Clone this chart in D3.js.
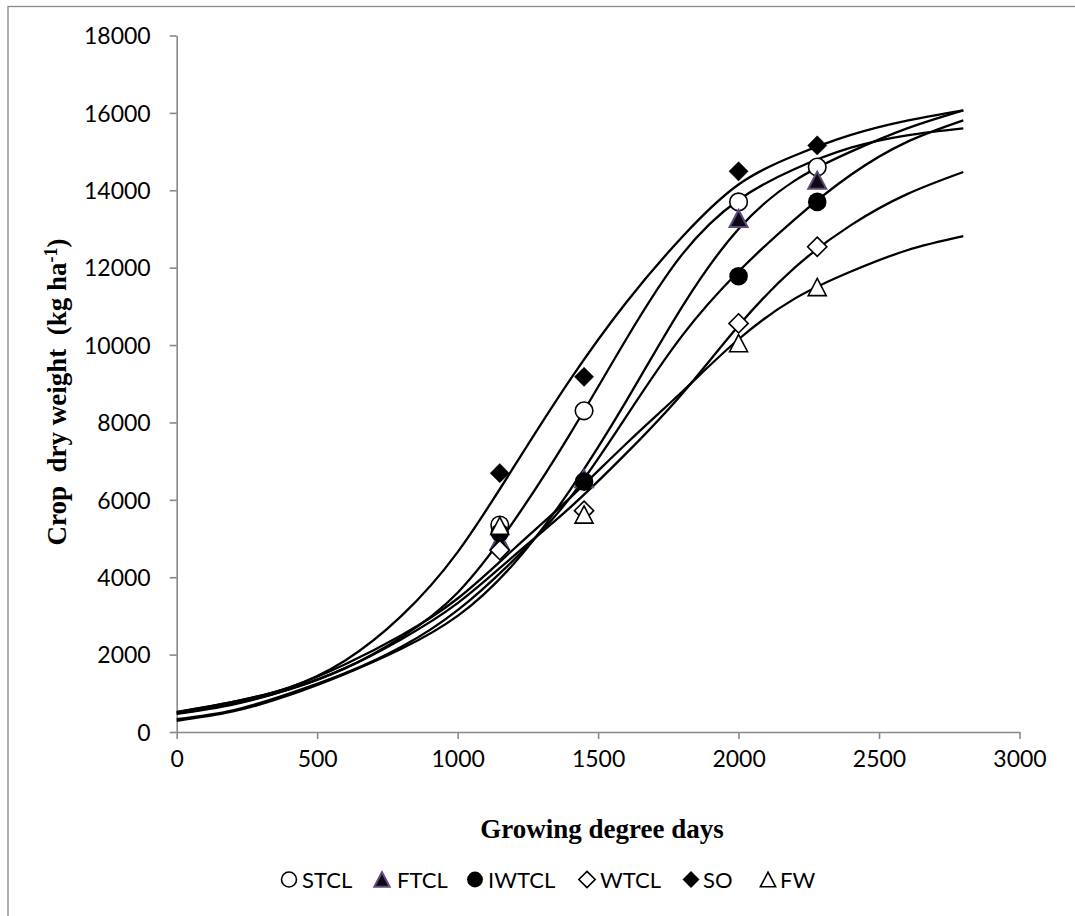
<!DOCTYPE html>
<html>
<head>
<meta charset="utf-8">
<script src="https://cdn.jsdelivr.net/npm/d3@7/dist/d3.min.js"></script>
<style>
  html, body { margin: 0; padding: 0; background: #fff; }
  svg { display: block; }
  .tick-label { font-family: Lato, "Open Sans", sans-serif; font-size: 23px; fill: #000; }
  .legend-label { font-family: Lato, "Open Sans", sans-serif; font-size: 22px; fill: #000; }
  .axis-title { font-family: "Liberation Serif", "Times New Roman", serif; font-weight: bold; font-size: 27px; fill: #000; }
</style>
</head>
<body>
<svg id="chart" width="1075" height="916"></svg>
<script>
// ---------- DATA ----------
const seriesNames = ["STCL", "FTCL", "IWTCL", "WTCL", "SO", "FW"];

// fitted curves (GDD grid, kg/ha)
const curveGDD   = [0, 200, 400, 600, 800, 1000, 1200, 1400, 1600, 1800, 2000, 2200, 2400, 2600, 2800];
const curveSTCL  = [470, 710, 1100, 1650, 2450, 3600, 5450, 7700, 10150, 12350, 13750, 14550, 15100, 15420, 15600];
const curveFTCL  = [290, 530, 950, 1500, 2150, 3000, 4350, 6250, 8550, 11000, 13000, 14250, 15000, 15600, 16065];
const curveIWTCL = [330, 560, 990, 1520, 2200, 3150, 4450, 6050, 8150, 10250, 11900, 13250, 14400, 15250, 15806];
const curveWTCL  = [480, 730, 1100, 1650, 2400, 3330, 4550, 5800, 7200, 8750, 10500, 12000, 13100, 13900, 14472];
const curveSO    = [510, 780, 1150, 1850, 3000, 4650, 6850, 9100, 11100, 12800, 14150, 14900, 15430, 15800, 16065];
const curveFW    = [520, 780, 1150, 1750, 2500, 3450, 4730, 6050, 7450, 8800, 10150, 11200, 11900, 12450, 12813];

// observed points
const obsGDD   = [1150, 1450, 2000, 2280];
const obsSTCL  = [5350, 8300, 13700, 14600];
const obsFTCL  = [4950, 6550, 13270, 14260];
const obsIWTCL = [5150, 6470, 11780, 13700];
const obsWTCL  = [4700, 5720, 10560, 12540];
const obsSO    = [6690, 9180, 14490, 15160];
const obsFW    = [5330, 5620, 10050, 11500];

// axis ticks
const xTicks = [0, 500, 1000, 1500, 2000, 2500, 3000];
const yTicks = [0, 2000, 4000, 6000, 8000, 10000, 12000, 14000, 16000, 18000];

// ---------- SETUP ----------
const curves = { STCL: curveSTCL, FTCL: curveFTCL, IWTCL: curveIWTCL, WTCL: curveWTCL, SO: curveSO, FW: curveFW };
const obs = { STCL: obsSTCL, FTCL: obsFTCL, IWTCL: obsIWTCL, WTCL: obsWTCL, SO: obsSO, FW: obsFW };
const markerType = { STCL: "circleOpen", FTCL: "triFilled", IWTCL: "circleFilled", WTCL: "diamondOpen", SO: "diamondFilled", FW: "triOpen" };

const svg = d3.select("#chart");
const x = d3.scaleLinear().domain([0, 3000]).range([176.7, 1019.5]);
const y = d3.scaleLinear().domain([0, 18000]).range([732, 35.5]);
const axisColor = "#898989";

// outer frame
svg.append("rect").attr("x", 8).attr("y", 6.5).attr("width", 1080).attr("height", 930)
  .attr("fill", "none").attr("stroke", axisColor).attr("stroke-width", 1.3);

// axes
const gx = svg.append("g").attr("transform", `translate(0,${y(0)})`)
  .call(d3.axisBottom(x).tickValues(xTicks).tickSize(7).tickSizeOuter(0).tickFormat(d => d));
const gy = svg.append("g").attr("transform", `translate(${x(0)},0)`)
  .call(d3.axisLeft(y).tickValues(yTicks).tickSize(7).tickSizeOuter(0).tickFormat(d => d));
[gx, gy].forEach(g => {
  g.select(".domain").attr("stroke", axisColor).attr("stroke-width", 1.6);
  g.selectAll(".tick line").attr("stroke", axisColor).attr("stroke-width", 1.6);
  g.selectAll(".tick text").attr("class", "tick-label").attr("font-size", null).attr("font-family", null);
});
gx.selectAll(".tick text").attr("y", 19).attr("dy", "0.71em");
gy.selectAll(".tick text").attr("x", -26).attr("dy", "0.36em");

// curves
const line = d3.line().x(d => x(d[0])).y(d => y(d[1])).curve(d3.curveNatural);
seriesNames.forEach(name => {
  const pts = curveGDD.map((g, i) => [g, curves[name][i]]);
  svg.append("path").attr("d", line(pts)).attr("fill", "none")
    .attr("stroke", "#000").attr("stroke-width", 2.3).attr("stroke-linejoin", "round");
});

// marker drawer
function drawMarker(g, type, cx, cy, s) {
  const sw = 1.6;
  if (type === "circleOpen") {
    g.append("circle").attr("cx", cx).attr("cy", cy).attr("r", 8.8 * s)
      .attr("fill", "#fff").attr("stroke", "#000").attr("stroke-width", sw);
  } else if (type === "circleFilled") {
    g.append("circle").attr("cx", cx).attr("cy", cy).attr("r", 9.3 * s).attr("fill", "#000");
  } else if (type === "diamondOpen" || type === "diamondFilled") {
    const h = 9.6 * s;
    g.append("path").attr("d", `M${cx},${cy - h}L${cx + h},${cy}L${cx},${cy + h}L${cx - h},${cy}Z`)
      .attr("fill", type === "diamondFilled" ? "#000" : "#fff")
      .attr("stroke", "#000").attr("stroke-width", type === "diamondFilled" ? 0.5 : sw);
  } else if (type === "triOpen" || type === "triFilled") {
    const w = 9.0 * s, h = 8.6 * s;
    g.append("path").attr("d", `M${cx},${cy - h}L${cx + w},${cy + h}L${cx - w},${cy + h}Z`)
      .attr("fill", type === "triFilled" ? "#0d0a14" : "#fff")
      .attr("stroke", type === "triFilled" ? "#5f4a7c" : "#000")
      .attr("stroke-width", type === "triFilled" ? 2 : sw).attr("stroke-linejoin", "miter");
  }
}

// observed markers
const mg = svg.append("g");
seriesNames.forEach(name => {
  obsGDD.forEach((g, i) => drawMarker(mg, markerType[name], x(g), y(obs[name][i]), 1));
});

// axis titles
svg.append("text").attr("class", "axis-title").attr("x", 602).attr("y", 838)
  .attr("text-anchor", "middle").text("Growing degree days");
const yt = svg.append("text").attr("class", "axis-title")
  .attr("transform", "translate(66,392) rotate(-90)").attr("text-anchor", "middle")
  .attr("xml:space", "preserve").style("white-space", "pre");
yt.append("tspan").text("Crop  dry weight  (kg ha");
yt.append("tspan").attr("dy", -9).attr("font-size", 18).text("-1");
yt.append("tspan").attr("dy", 9).text(")");

// legend
const legendItems = [
  { name: "STCL", mx: 289, tx: 302 },
  { name: "FTCL", mx: 382, tx: 397 },
  { name: "IWTCL", mx: 475, tx: 488 },
  { name: "WTCL", mx: 587, tx: 600 },
  { name: "SO", mx: 691, tx: 703 },
  { name: "FW", mx: 768, tx: 780 }
];
const lg = svg.append("g");
legendItems.forEach(it => {
  drawMarker(lg, markerType[it.name], it.mx, 879.5, 0.85);
  lg.append("text").attr("class", "legend-label").attr("x", it.tx).attr("y", 887.5).text(it.name);
});
</script>
</body>
</html>
